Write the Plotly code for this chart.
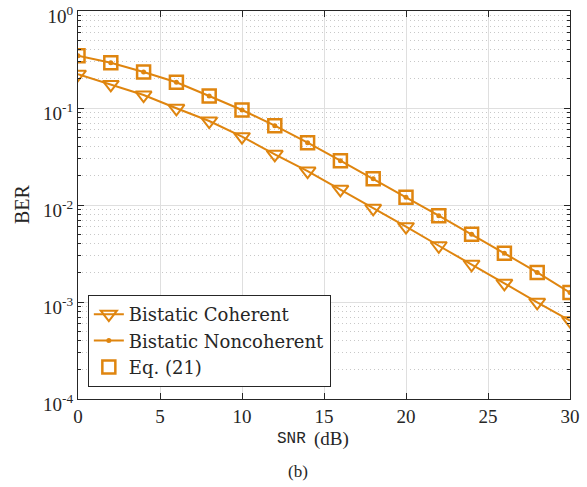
import plotly.graph_objects as go

snr = [0, 2, 4, 6, 8, 10, 12, 14, 16, 18, 20, 22, 24, 26, 28, 30]
ber_coherent = [0.223, 0.175, 0.136, 0.0993, 0.0734, 0.0506, 0.0333, 0.0224, 0.0145,
                0.00925, 0.00598, 0.00380, 0.00245, 0.00156, 0.000993, 0.000641]
ber_noncoherent = [0.346, 0.293, 0.235, 0.184, 0.133, 0.0954, 0.0657, 0.0439, 0.0286,
                   0.0187, 0.0120, 0.00776, 0.00499, 0.00318, 0.00202, 0.00125]
ber_eq21 = ber_noncoherent
ytick_vals = [1e-4, 1e-3, 1e-2, 1e-1, 1]
ytick_text = ["10<sup>-4</sup>", "10<sup>-3</sup>", "10<sup>-2</sup>", "10<sup>-1</sup>", "10<sup>0</sup>"]
xtick_vals = [0, 5, 10, 15, 20, 25, 30]
yminor_vals = [m * 10 ** e for e in range(-4, 0) for m in range(2, 10)]

color = "#DF850F"
ink = "#262626"
serif = "Liberation Serif, Times New Roman, serif"
legend_serif = "DejaVu Serif, Liberation Serif, serif"
mono = "Liberation Mono, DejaVu Sans Mono, monospace"

fig = go.Figure()
fig.add_trace(go.Scatter(
    x=snr, y=ber_coherent, mode="lines+markers", name="Bistatic Coherent",
    line=dict(color=color, width=2),
    marker=dict(symbol="triangle-down-open", size=14, color=color, line=dict(width=2, color=color)),
))
fig.add_trace(go.Scatter(
    x=snr, y=ber_noncoherent, mode="lines+markers", name="Bistatic Noncoherent",
    line=dict(color=color, width=2),
    marker=dict(symbol="circle", size=5, color=color),
))
fig.add_trace(go.Scatter(
    x=snr, y=ber_eq21, mode="markers", name="Eq. (21)",
    marker=dict(symbol="square-open", size=13, color=color, line=dict(width=2.5, color=color)),
))

fig.update_layout(
    width=587, height=487,
    margin=dict(l=78, r=17, t=11, b=88, autoexpand=False),
    paper_bgcolor="white", plot_bgcolor="white",
    font=dict(family=serif, size=19, color=ink),
    showlegend=True,
    legend=dict(
        x=0.02, y=0.031, xanchor="left", yanchor="bottom",
        bgcolor="white", bordercolor=ink, borderwidth=1,
        font=dict(family=legend_serif, size=18, color=ink),
        itemwidth=30, tracegroupgap=0,
    ),
    annotations=[
        dict(text="SNR", x=0.4675, y=-0.103, xref="paper", yref="paper",
             xanchor="right", yanchor="middle", showarrow=False,
             font=dict(family=mono, size=16, color=ink)),
        dict(text="(dB)", x=0.4756, y=-0.103, xref="paper", yref="paper",
             xanchor="left", yanchor="middle", showarrow=False,
             font=dict(family=serif, size=19, color=ink)),
        dict(text="BER", x=-0.1138, y=0.5026, xref="paper", yref="paper",
             xanchor="center", yanchor="middle", showarrow=False, textangle=-90,
             font=dict(family=serif, size=20, color=ink)),
        dict(text="(b)", x=0.447, y=-0.188, xref="paper", yref="paper",
             xanchor="center", yanchor="middle", showarrow=False,
             font=dict(family=serif, size=17, color=ink)),
    ],
)
fig.update_xaxes(
    range=[0, 30], tickvals=xtick_vals, automargin=False,
    showgrid=True, gridcolor="#DFDFDF", gridwidth=1,
    ticks="inside", ticklen=6, tickcolor=ink,
    showline=True, linecolor=ink, linewidth=1, mirror="ticks",
    zeroline=False, ticklabeloverflow="allow",
    tickfont=dict(family=serif, size=19, color=ink),
)
fig.update_yaxes(
    type="log", range=[-4, 0], tickvals=ytick_vals, ticktext=ytick_text, automargin=False,
    showgrid=True, gridcolor="#DFDFDF", gridwidth=1,
    ticks="inside", ticklen=6, tickcolor=ink,
    showline=True, linecolor=ink, linewidth=1, mirror="ticks",
    zeroline=False, ticklabeloverflow="allow", ticklabelshift=5,
    tickfont=dict(family=serif, size=19, color=ink),
    minor=dict(showgrid=True, gridcolor="#C8C8C8", griddash="1px,3px", gridwidth=1,
               ticks="inside", ticklen=3, tickcolor=ink, tickvals=yminor_vals),
)

fig.write_html("out.html", config={"displayModeBar": False},
               post_script="document.body.style.margin='0';")
